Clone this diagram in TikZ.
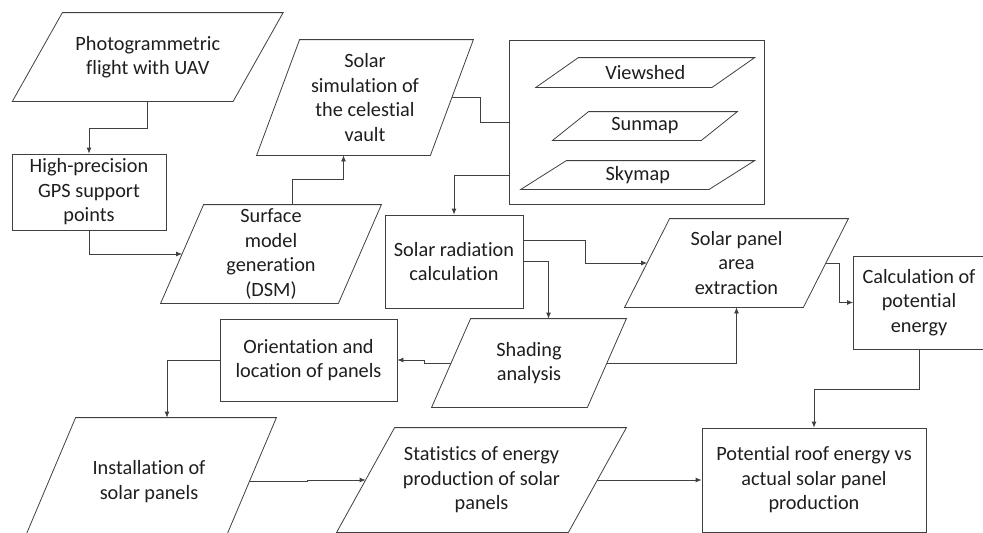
\documentclass[tikz,border=0pt]{standalone}
\usepackage{fontspec}
\setmainfont{Carlito}[Ligatures=NoCommon]
\usetikzlibrary{arrows.meta, positioning}
\definecolor{linec}{RGB}{64,64,64}
\definecolor{txtc}{RGB}{30,30,30}
\tikzset{
  box/.style={draw=linec, rectangle, align=center, inner sep=1pt, text=txtc, font=\fontsize{20.3}{24.5}\selectfont},
  para/.style={box, draw=none, append after command={\pgfextra{\draw[linec]
      ([xshift=-#1]\tikzlastnode.south west) -- ([xshift=-#1]\tikzlastnode.south east) --
      ([xshift=#1]\tikzlastnode.north east) -- ([xshift=#1]\tikzlastnode.north west) -- cycle;}}},
  arr/.style={draw=linec, -{Latex[length=6pt,width=5pt]}},
  link/.style={draw=linec}
}

\begin{document}
\begin{tikzpicture}[x=1pt, y=-1pt, line width=0.8pt]
\useasboundingbox (0,0) rectangle (983,533);
\clip (0,0) rectangle (983,533);
\node[para=25pt, minimum width=220pt, minimum height=88pt] (photo) at (147.75,57) {Photogrammetric\\flight with UAV};
\node[box, minimum width=154pt, minimum height=76pt] (gps) at (89,192) {High-precision\\GPS support\\points};
\node[para=21.5pt, minimum width=177pt, minimum height=98pt] (surf) at (271,254) {Surface\\model\\generation\\(DSM)};
\node[para=21.5pt, minimum width=173pt, minimum height=115pt] (sim) at (365,97.5) {Solar\\simulation of\\the celestial\\vault};
\node[box, minimum width=255pt, minimum height=164pt] (tools) at (636.5,122) {};
\node[para=21.25pt, minimum width=175.5pt, minimum height=29pt] (view) at (645.25,72.5) {Viewshed};
\node[para=18pt, minimum width=148pt, minimum height=28pt] (sun) at (645,126) {Sunmap};
\node[para=22.75pt, minimum width=187.5pt, minimum height=28pt] (sky) at (637.75,175) {Skymap};
\node[box, minimum width=138pt, minimum height=93pt] (rad) at (454,261.5) {Solar radiation\\calculation};
\node[para=22.5pt, minimum width=178pt, minimum height=88pt] (panel) at (736.5,263) {Solar panel\\area\\extraction};
\node[para=19.5pt, minimum width=155pt, minimum height=88pt] (shade) at (529,363) {Shading\\analysis};
\node[box, minimum width=177pt, minimum height=82pt] (orient) at (308.5,360) {Orientation and\\location of panels};
\node[box, minimum width=131pt, minimum height=93pt] (calc) at (919,302.5) {Calculation of\\potential\\energy};
\node[para=27pt, minimum width=200pt, minimum height=127pt] (inst) at (149,481.5) {Installation of\\solar panels};
\node[para=29pt, minimum width=231pt, minimum height=104pt] (stat) at (481.5,480) {Statistics of energy\\production of solar\\panels};
\node[box, minimum width=224pt, minimum height=104pt] (pot) at (814,480) {Potential roof energy vs\\actual solar panel\\production};

\draw[arr] (photo.south) -- ++(0,27) -| (gps.north);
\draw[arr] (gps.south) |- (surf.west);
\draw[arr] ([xshift=21.5pt]surf.north) -- ++(0,-25) -| ([xshift=-21.5pt]sim.south);
\draw[link] (sim.east) -- ++(28,0) |- (tools.west);
\draw[arr] (tools.west |- sky.center) -| (rad.north);
\draw[arr] ([yshift=21.5pt]rad.east) -- ++(62,0) |- (panel.west);
\draw[arr] (rad.east) -| ([xshift=19.5pt]shade.north);
\draw[arr] (shade.east) -| (panel.south);
\draw[arr] (shade.west) -- ++(-27,0) |- (orient.east);
\draw[arr] (orient.west) -| ([xshift=18pt]inst.north);
\draw[arr] (inst.east) -- ++(58,0) |- (stat.west);
\draw[arr] (stat.east) -- (pot.west);
\draw[arr] (panel.east) -- ++(13,0) |- (calc.west);
\draw[arr] (calc.south) -- ++(0,40) -| (pot.north);
\end{tikzpicture}
\end{document}
